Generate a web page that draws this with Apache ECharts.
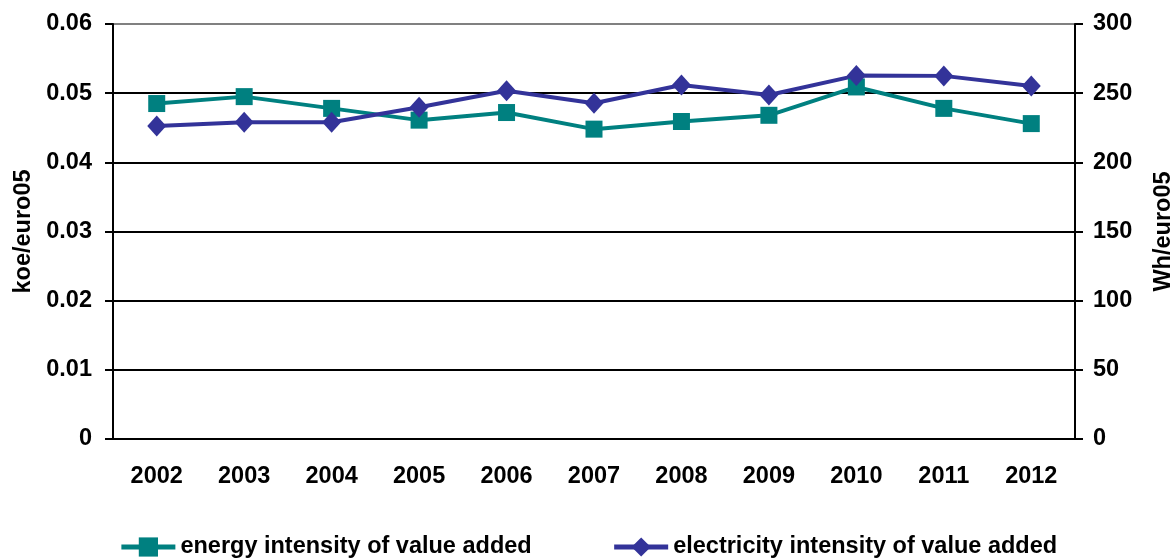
<!DOCTYPE html>
<html>
<head>
<meta charset="utf-8">
<script src="https://cdn.jsdelivr.net/npm/echarts@6/dist/echarts.min.js"></script>
<style>
  html, body { margin: 0; padding: 0; background: #fff; }
  #chart { width: 1176px; height: 560px; }
</style>
</head>
<body>
<div id="chart"></div>
<script>
// years on the x axis
var years = ['2002', '2003', '2004', '2005', '2006', '2007', '2008', '2009', '2010', '2011', '2012']
// koe/euro05, left axis
var energyIntensity = [0.0485, 0.0495, 0.0478, 0.0461, 0.0472, 0.0448, 0.0459, 0.0468, 0.0509, 0.0478, 0.0456]
// Wh/euro05, right axis
var elecIntensity = [226.3, 228.9, 229.0, 239.8, 251.8, 242.7, 255.9, 248.7, 262.7, 262.5, 255.2]

var font = 'Liberation Sans, Arial, sans-serif'
var txt = { color: '#000', fontFamily: font, fontWeight: 'bold', fontSize: 23.5 }

// the 0.06 line on top is gray, others black
var gridColors = ['#000', '#000', '#000', '#000', '#000', '#000', '#808080']

var chart = echarts.init(document.getElementById('chart'), null, { renderer: 'canvas' })
chart.setOption({
  animation: false,
  backgroundColor: '#fff',
  grid: { left: 113, right: 101, top: 24, bottom: 121, outerBoundsMode: 'none' },
  legend: {
    bottom: -4,
    left: 'center',
    itemGap: 80,
    itemWidth: 54,
    itemHeight: 24,
    lineStyle: { width: 5 },
    textStyle: txt,
    data: ['energy intensity of value added', 'electricity intensity of value added']
  },
  xAxis: [
    {
      type: 'category',
      data: years,
      boundaryGap: true,
      axisLine: { lineStyle: { color: '#000', width: 2 } },
      axisTick: { length: 8, lineStyle: { color: '#000', width: 2 } },
      axisLabel: Object.assign({ margin: 26 }, txt)
    },
    {
      // inside ticks, to make them cross the axis
      type: 'category',
      data: years,
      position: 'bottom',
      boundaryGap: true,
      axisLine: { show: false },
      axisTick: { inside: true, length: 7, lineStyle: { color: '#000', width: 2 } },
      axisLabel: { show: false }
    }
  ],
  yAxis: [
    {
      type: 'value',
      min: 0,
      max: 0.06,
      interval: 0.01,
      name: 'koe/euro05',
      nameLocation: 'middle',
      nameRotate: 90,
      nameGap: 77,
      nameTextStyle: txt,
      axisLine: { show: true, lineStyle: { color: '#000', width: 2 } },
      axisTick: { show: true, length: 8, lineStyle: { color: '#000', width: 2 } },
      axisLabel: Object.assign({ margin: 21 }, txt),
      splitLine: { show: true, lineStyle: { color: gridColors, width: 2 } }
    },
    {
      type: 'value',
      min: 0,
      max: 300,
      interval: 50,
      position: 'right',
      name: 'Wh/euro05',
      nameLocation: 'middle',
      nameRotate: 90,
      nameGap: 77,
      nameTextStyle: txt,
      axisLine: { show: true, lineStyle: { color: '#000', width: 2 } },
      axisTick: { show: true, length: 8, lineStyle: { color: '#000', width: 2 } },
      axisLabel: Object.assign({ margin: 18 }, txt),
      splitLine: { show: false }
    }
  ],
  series: [
    {
      name: 'energy intensity of value added',
      type: 'line',
      yAxisIndex: 0,
      data: energyIntensity,
      symbol: 'rect',
      symbolSize: 17,
      color: '#008080',
      lineStyle: { width: 4, color: '#008080' },
      itemStyle: { color: '#008080' }
    },
    {
      name: 'electricity intensity of value added',
      type: 'line',
      yAxisIndex: 1,
      data: elecIntensity,
      symbol: 'diamond',
      symbolSize: [19, 21],
      color: '#333399',
      lineStyle: { width: 4, color: '#333399' },
      itemStyle: { color: '#333399' }
    }
  ]
})
</script>
</body>
</html>
